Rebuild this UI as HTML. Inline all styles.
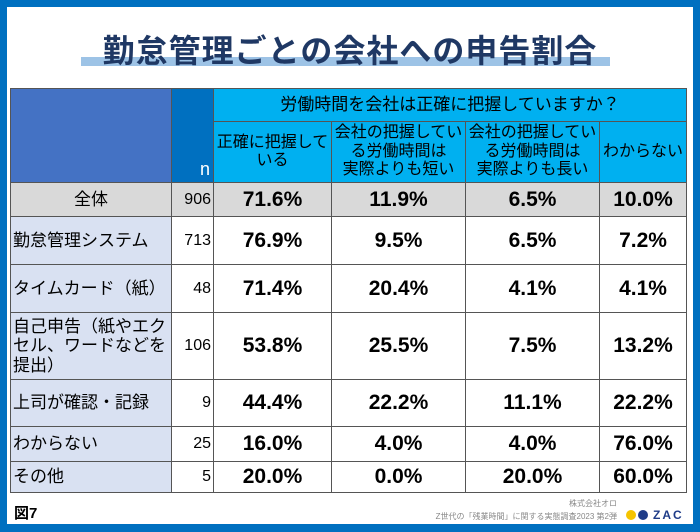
<!DOCTYPE html>
<html><head><meta charset="utf-8"><style>
*{margin:0;padding:0;box-sizing:border-box}
body{width:700px;height:532px;background:#0070c0;position:relative;overflow:hidden;font-family:"Liberation Sans","Noto Sans CJK JP",sans-serif}
#inner{position:absolute;left:7px;top:7px;width:686px;height:517px;background:#fff}
.c{position:absolute;display:flex;align-items:center;justify-content:center;border-right:1px solid #555;border-bottom:1px solid #555;color:#000;line-height:1.1}
</style></head><body>
<div id="inner"></div>
<div style="position:absolute;left:81px;top:57px;width:529px;height:9px;background:#9dc3e6"></div>
<div style="position:absolute;left:0;top:26px;width:700px;text-align:center;font-size:32px;font-weight:bold;color:#1f3864;letter-spacing:1px">勤怠管理ごとの会社への申告割合</div>
<div id="t"></div>
<div style="position:absolute;left:14px;top:502px;font-size:15px;font-weight:bold">図7</div>
<div style="position:absolute;right:83px;top:498px;font-size:8px;color:#888">株式会社オロ</div>
<div style="position:absolute;right:83px;top:511px;font-size:8px;color:#888">Z世代の「残業時間」に関する実態調査2023 第2弾</div>
<div style="position:absolute;left:626px;top:508px;display:flex;align-items:center;gap:2px"><span style="width:10px;height:10px;border-radius:50%;background:#f5c400;display:inline-block"></span><span style="width:10px;height:10px;border-radius:50%;background:#1f3c88;display:inline-block"></span><span style="font-size:12px;font-weight:bold;color:#1f3c88;margin-left:3px;letter-spacing:2px">ZAC</span></div>
<script>
const categories=["全体","勤怠管理システム","タイムカード（紙）","自己申告（紙やエクセル、ワードなどを提出）","上司が確認・記録","わからない","その他"];
const nValues=[906,713,48,106,9,25,5];
const accurate=[71.6,76.9,71.4,53.8,44.4,16.0,20.0];
const shorter=[11.9,9.5,20.4,25.5,22.2,4.0,0.0];
const longer=[6.5,6.5,4.1,7.5,11.1,4.0,20.0];
const unknown=[10.0,7.2,4.1,13.2,22.2,76.0,60.0];
const xs=[10,172,214,332,466,600,687];
const ys=[183,217,265,313,380,427,462,493];
const t=document.getElementById('t');
function cell(x,y,w,h,txt,st,name){const d=document.createElement('div');d.className='c';


d.style.cssText+=`left:${x}px;top:${y}px;width:${w}px;height:${h}px;`+st;d.innerHTML=txt;t.appendChild(d);return d;}
cell(10,88,162,95,'','background:#4472c4;border-left:1px solid #555;border-top:1px solid #555','header-blank');
cell(172,88,42,95,'n','background:#0070c0;color:#fff;justify-content:flex-end;align-items:flex-end;padding:0 3px 2px 0;font-size:18px;border-top:1px solid #555','n-header');
cell(214,88,473,34,'労働時間を会社は正確に把握していますか？','background:#00b0f0;font-size:17px;border-top:1px solid #555','question-header');
const hs=["正確に把握して<br>いる","会社の把握してい<br>る労働時間は<br>実際よりも短い","会社の把握してい<br>る労働時間は<br>実際よりも長い","わからない"];
for(let i=0;i<4;i++)cell(xs[i+2],122,xs[i+3]-xs[i+2],61,hs[i],'background:#00b0f0;font-size:16px;text-align:center;line-height:1.15','col-header-'+(i+1));
const series=[accurate,shorter,longer,unknown];
categories.forEach((c,r)=>{const y=ys[r],h=ys[r+1]-ys[r];const all=r===0;
cell(10,y,162,h,c,(all?'background:#d9d9d9;justify-content:center;':'background:#d9e1f2;justify-content:flex-start;padding-left:2px;')+'border-left:1px solid #555;font-size:17px;line-height:1.15','row-label');
cell(172,y,42,h,nValues[r],(all?'background:#d9d9d9;':'')+'justify-content:flex-end;padding-right:2px;font-size:16px','n-value');
series.forEach((s,i)=>cell(xs[i+2],y,xs[i+3]-xs[i+2],h,s[r].toFixed(1)+'%',(all?'background:#d9d9d9;':'')+'font-size:21px;font-weight:bold','value-cell'));});
</script>
</body></html>
